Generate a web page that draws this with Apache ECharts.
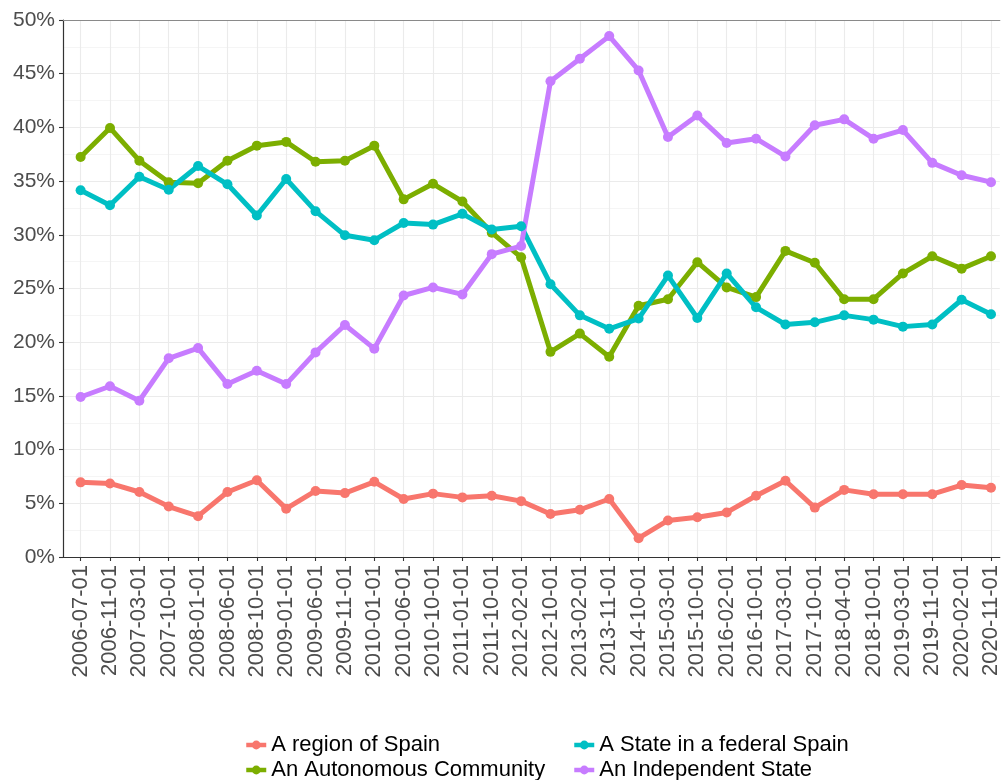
<!DOCTYPE html>
<html>
<head>
<meta charset="utf-8">
<script src="https://cdn.jsdelivr.net/npm/echarts@6/dist/echarts.min.js"></script>
<style>html,body{margin:0;padding:0;background:#fff;}#c{width:1002px;height:780px;}</style>
</head>
<body>
<div id="c"></div>
<script>
const categories = ['2006-07-01','2006-11-01','2007-03-01','2007-10-01','2008-01-01','2008-06-01','2008-10-01','2009-01-01','2009-06-01','2009-11-01','2010-01-01','2010-06-01','2010-10-01','2011-01-01','2011-10-01','2012-02-01','2012-10-01','2013-02-01','2013-11-01','2014-10-01','2015-03-01','2015-10-01','2016-02-01','2016-10-01','2017-03-01','2017-10-01','2018-04-01','2018-10-01','2019-03-01','2019-11-01','2020-02-01','2020-11-01'];
const region = [6.95,6.85,6.05,4.7,3.8,6.05,7.15,4.5,6.15,5.95,7.0,5.4,5.9,5.55,5.7,5.2,4.0,4.4,5.4,1.75,3.4,3.7,4.15,5.7,7.1,4.6,6.25,5.85,5.85,5.85,6.7,6.45];
const autonomous = [37.25,39.95,36.9,34.9,34.8,36.9,38.3,38.65,36.8,36.9,38.3,33.3,34.75,33.1,30.2,27.9,19.1,20.8,18.65,23.4,24.0,27.45,25.1,24.2,28.5,27.4,24.0,24.0,26.4,28.0,26.85,28.0];
const federal = [34.15,32.75,35.4,34.2,36.4,34.7,31.8,35.2,32.2,29.95,29.5,31.1,30.95,31.95,30.5,30.8,25.4,22.5,21.25,22.2,26.2,22.25,26.4,23.25,21.65,21.85,22.5,22.1,21.45,21.65,23.95,22.6];
const independent = [14.9,15.9,14.55,18.5,19.45,16.1,17.35,16.1,19.05,21.6,19.4,24.35,25.1,24.45,28.2,28.95,44.3,46.4,48.5,45.3,39.1,41.1,38.55,38.95,37.3,40.2,40.75,38.95,39.75,36.7,35.55,34.9];

const seriesDefs = [
  {name:'A region of Spain', data: region, color:'#F8766D'},
  {name:'An Autonomous Community', data: autonomous, color:'#7CAE00'},
  {name:'A State in a federal Spain', data: federal, color:'#00BFC4'},
  {name:'An Independent State', data: independent, color:'#C77CFF'}
];
const idx = categories.map((_, i) => i);

const chart = echarts.init(document.getElementById('c'), null, {renderer:'canvas'});
const font = 'Liberation Sans, Arial, sans-serif';
const legendBase = {
  orient: 'vertical', top: 734, height: 60, padding: 0, itemWidth: 20, itemHeight: 11, itemGap: 3,
  lineStyle: {width: 4.5},
  textStyle: {fontSize: 22, color: '#000', fontFamily: font, lineHeight: 22}
};
chart.setOption({
  animation: false,
  backgroundColor: '#fff',
  grid: {left: 63, right: 0, top: 20, bottom: 223, containLabel: false},
  xAxis: [{
    type: 'value', min: -0.6, max: 31.3,
    axisLine: {show: true, onZero: false, lineStyle: {color: '#333', width: 1.2}},
    axisTick: {show: true, length: 4, customValues: idx, lineStyle: {color: '#333', width: 1.1}},
    axisLabel: {show: true, customValues: idx, rotate: 90, margin: 8, fontSize: 22, color: '#4D4D4D', fontFamily: font,
      formatter: v => categories[Math.round(v)] || ''},
    splitLine: {show: true, lineStyle: {color: '#EBEBEB', width: 1.1}}
  },{
    type: 'value', min: -0.6, max: 31.3, position: 'top',
    axisLine: {show: true, onZero: false, lineStyle: {color: '#8a8a8a', width: 1.2}},
    axisTick: {show: false}, axisLabel: {show: false}, splitLine: {show: false}
  }],
  yAxis: {
    type: 'value', min: 0, max: 50, interval: 5,
    axisLine: {show: true, onZero: false, lineStyle: {color: '#333', width: 1.2}},
    axisTick: {show: true, length: 4, lineStyle: {color: '#333', width: 1.1}},
    axisLabel: {margin: 8, fontSize: 21, color: '#4D4D4D', fontFamily: font, formatter: '{value}%'},
    splitLine: {show: true, lineStyle: {color: '#EBEBEB', width: 1.1}},
    minorTick: {show: false, splitNumber: 2},
    minorSplitLine: {show: true, lineStyle: {color: '#F2F2F2', width: 0.8}}
  },
  legend: [
    Object.assign({}, legendBase, {data: [seriesDefs[0].name, seriesDefs[1].name], left: 244}),
    Object.assign({}, legendBase, {data: [seriesDefs[2].name, seriesDefs[3].name], left: 572})
  ],
  series: seriesDefs.map(s => ({
    name: s.name, type: 'line',
    data: s.data.map((v, i) => [i, v]),
    symbol: 'circle', symbolSize: 10, showSymbol: true,
    lineStyle: {color: s.color, width: 5},
    itemStyle: {color: s.color},
    color: s.color,
    emphasis: {disabled: true}
  }))
});
</script>
</body>
</html>
